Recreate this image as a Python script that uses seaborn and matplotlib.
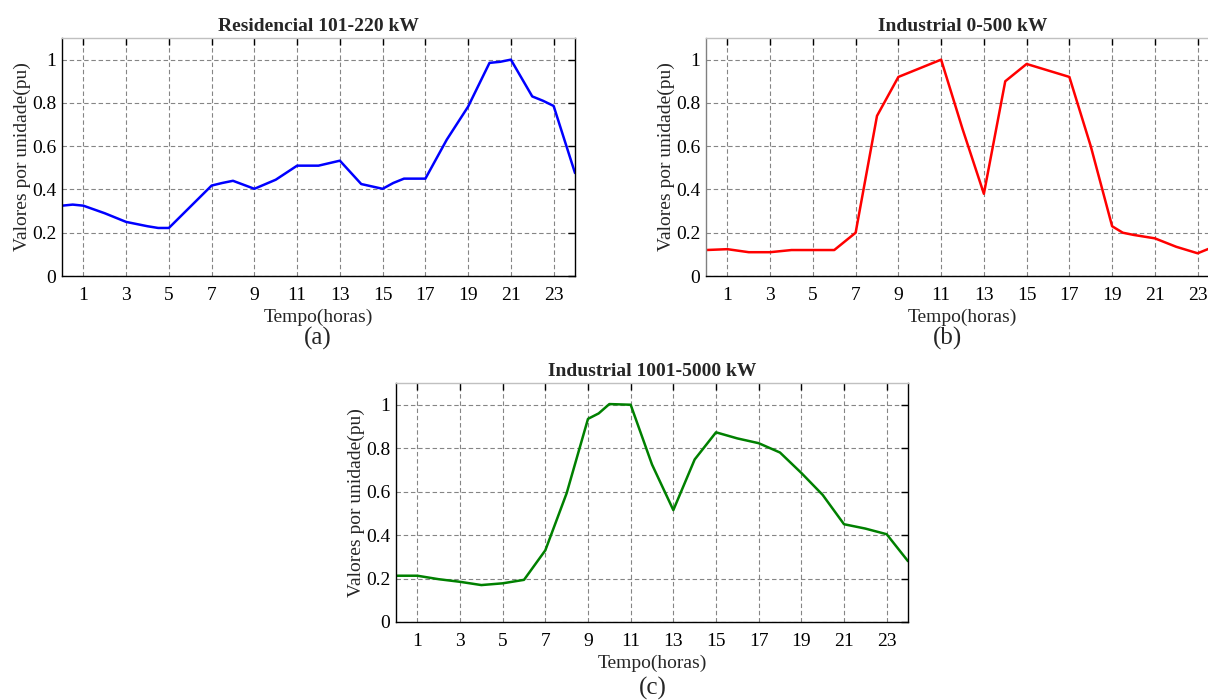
import pandas as pd
import seaborn as sns
import matplotlib.pyplot as plt

# hours and per-unit values
hours_a = [0, 0.5, 1, 2, 3, 4, 4.5, 5, 6, 7, 7.5, 8, 9, 10, 11, 12, 13, 14, 15, 15.5, 16, 17,
           18, 19, 20, 20.5, 21, 22, 22.5, 23, 24]
resid_101_220 = [0.325, 0.33, 0.325, 0.29, 0.25, 0.23, 0.222, 0.222, 0.32, 0.418, 0.43, 0.44, 0.403,
                 0.445, 0.51, 0.51, 0.533, 0.425, 0.403, 0.43, 0.45, 0.45, 0.63, 0.783, 0.985, 0.99,
                 1.0, 0.83, 0.81, 0.786, 0.476]

hours_b = [0, 1, 2, 3, 4, 5, 6, 7, 8, 8.5, 9, 9.5, 10, 11, 12, 13, 14, 15, 16, 17, 18, 19, 19.5,
           20, 21, 22, 23, 23.5, 24]
ind_0_500 = [0.12, 0.124, 0.11, 0.11, 0.12, 0.12, 0.12, 0.2, 0.74, 0.83, 0.92, 0.94, 0.96, 1.0,
             0.68, 0.38, 0.9, 0.98, 0.95, 0.92, 0.6, 0.23, 0.2, 0.19, 0.174, 0.135, 0.105, 0.125,
             0.14]

hours_c = [0, 1, 2, 3, 4, 5, 6, 7, 8, 9, 9.5, 10, 11, 12, 13, 14, 15, 16, 17, 18, 19, 20, 21, 22,
           23, 24]
ind_1001_5000 = [0.213, 0.213, 0.197, 0.185, 0.17, 0.178, 0.194, 0.33, 0.593, 0.935, 0.96, 1.003,
                 1.0, 0.725, 0.515, 0.748, 0.873, 0.845, 0.823, 0.78, 0.686, 0.585, 0.45, 0.43,
                 0.404, 0.28]

titles = ['Residencial 101-220 kW', 'Industrial 0-500 kW', 'Industrial 1001-5000 kW']
panel_tags = ['(a)', '(b)', '(c)']
x_ticks = list(range(1, 24, 2))
y_ticks = [0, 0.2, 0.4, 0.6, 0.8, 1.0]
y_ticklabels = ['0', '0.2', '0.4', '0.6', '0.8', '1']

sns.set_style('white')
plt.rcParams['font.family'] = ['Liberation Serif', 'DejaVu Serif']
FS = 14

fig = plt.figure(figsize=(12.08, 7.0), dpi=100)

W, H = 1208, 700
# axes boxes in pixels: left, top, right, bottom
boxes = [(62, 38, 575, 276), (706, 38, 1219, 276), (396, 383, 908, 622)]
series = [(hours_a, resid_101_220, '#0000ff'),
          (hours_b, ind_0_500, '#ff0000'),
          (hours_c, ind_1001_5000, '#008000')]
tag_pos = [(318, 338), (947, 338), (653, 688)]

for i, (box, (hx, hy, col)) in enumerate(zip(boxes, series)):
    l, t, r, b = box
    ax = fig.add_axes([l / W, 1 - b / H, (r - l) / W, (b - t) / H])
    df = pd.DataFrame({'Tempo': hx, 'pu': hy})
    sns.lineplot(data=df, x='Tempo', y='pu', ax=ax, color=col, linewidth=1.8)
    ax.set_xlim(0, 24)
    ax.set_ylim(0, 1.1)
    ax.set_xticks(x_ticks)
    ax.set_yticks(y_ticks)
    ax.set_yticklabels(y_ticklabels)
    ax.grid(True, linestyle=(0, (4, 2.5)), color='#858585', linewidth=0.8)
    ax.set_axisbelow(True)
    ax.tick_params(direction='in', top=True, right=True, length=5, width=1,
                   colors='black', labelsize=FS)
    ax.tick_params(axis='x', pad=8)
    ax.tick_params(axis='y', pad=4)
    for name, sp in ax.spines.items():
        sp.set_visible(True)
        sp.set_linewidth(1.0)
        sp.set_edgecolor('black')
    ax.spines['top'].set_edgecolor('#c0c0c0')
    if i == 1:
        ax.spines['left'].set_edgecolor('#808080')
    ax.set_xlabel('Tempo(horas)', fontsize=FS, labelpad=3)
    ax.set_ylabel('Valores por unidade(pu)', fontsize=FS, labelpad=1)
    ax.set_title(titles[i], fontsize=FS, fontweight='bold', pad=5)
    fig.text(tag_pos[i][0] / W, 1 - tag_pos[i][1] / H, panel_tags[i], fontsize=18,
             ha='center', va='center')

fig.savefig('out.png', dpi=100)
